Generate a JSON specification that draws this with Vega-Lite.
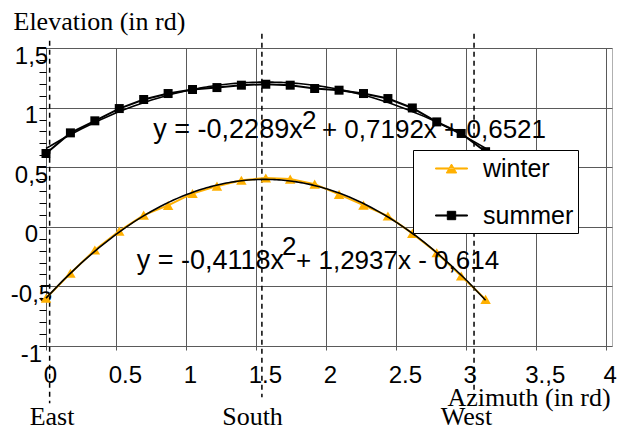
{
  "$schema": "https://vega.github.io/schema/vega-lite/v6.json",
  "width": 566,
  "height": 298,
  "autosize": {"type": "none"},
  "padding": {"left": 46, "top": 48, "right": 10, "bottom": 84},
  "background": "white",
  "config": {"view": {"stroke": "#b0b0b0", "strokeWidth": 1}, "font": "Liberation Sans"},
  "datasets": {
    "obs": [
      {"series": "winter", "x": 0, "y": -0.6},
      {"series": "winter", "x": 0.1745, "y": -0.39},
      {"series": "winter", "x": 0.3491, "y": -0.195},
      {"series": "winter", "x": 0.5236, "y": -0.036},
      {"series": "winter", "x": 0.6981, "y": 0.098},
      {"series": "winter", "x": 0.8727, "y": 0.18},
      {"series": "winter", "x": 1.0472, "y": 0.28},
      {"series": "winter", "x": 1.2217, "y": 0.341},
      {"series": "winter", "x": 1.3963, "y": 0.39},
      {"series": "winter", "x": 1.5708, "y": 0.41},
      {"series": "winter", "x": 1.7453, "y": 0.4},
      {"series": "winter", "x": 1.9199, "y": 0.358},
      {"series": "winter", "x": 2.0944, "y": 0.272},
      {"series": "winter", "x": 2.2689, "y": 0.182},
      {"series": "winter", "x": 2.4435, "y": 0.09},
      {"series": "winter", "x": 2.618, "y": -0.055},
      {"series": "winter", "x": 2.7925, "y": -0.218},
      {"series": "winter", "x": 2.9671, "y": -0.413},
      {"series": "winter", "x": 3.1416, "y": -0.609},
      {"series": "summer", "x": 0, "y": 0.615},
      {"series": "summer", "x": 0.1745, "y": 0.788},
      {"series": "summer", "x": 0.3491, "y": 0.889},
      {"series": "summer", "x": 0.5236, "y": 0.992},
      {"series": "summer", "x": 0.6981, "y": 1.068},
      {"series": "summer", "x": 0.8727, "y": 1.118},
      {"series": "summer", "x": 1.0472, "y": 1.152},
      {"series": "summer", "x": 1.2217, "y": 1.168},
      {"series": "summer", "x": 1.3963, "y": 1.188},
      {"series": "summer", "x": 1.5708, "y": 1.196},
      {"series": "summer", "x": 1.7453, "y": 1.188},
      {"series": "summer", "x": 1.9199, "y": 1.16},
      {"series": "summer", "x": 2.0944, "y": 1.146},
      {"series": "summer", "x": 2.2689, "y": 1.118},
      {"series": "summer", "x": 2.4435, "y": 1.076},
      {"series": "summer", "x": 2.618, "y": 0.997},
      {"series": "summer", "x": 2.7925, "y": 0.88},
      {"series": "summer", "x": 2.9671, "y": 0.783},
      {"series": "summer", "x": 3.1416, "y": 0.63}
    ],
    "dirs": [
      {"x": 0.026, "y": 1.56, "y2": -1.48},
      {"x": 1.543, "y": 1.62, "y2": -1.43},
      {"x": 3.059, "y": 1.62, "y2": -1.43}
    ],
    "dirlabels": [
      {"text": "East", "x": 0.043, "y": -1.665},
      {"text": "South", "x": 1.476, "y": -1.665},
      {"text": "West", "x": 3.005, "y": -1.665}
    ],
    "eqA": [
      {"text": "y = -0,2289x", "x": 0.767, "y": 0.743},
      {"text": "y = -0,4118x", "x": 0.648, "y": -0.354}
    ],
    "eqB": [
      {"text": "2", "x": 1.829, "y": 0.82},
      {"text": "+ 0,7192x + 0,6521", "x": 1.972, "y": 0.743},
      {"text": "2", "x": 1.687, "y": -0.237},
      {"text": "+ 1,2937x - 0,614", "x": 1.787, "y": -0.354}
    ]
  },
  "encoding": {
    "x": {
      "field": "x", "type": "quantitative",
      "scale": {"domain": [0, 4.045], "nice": false, "zero": false},
      "axis": {
        "values": [0, 0.5, 1, 1.5, 2, 2.5, 3, 3.5, 4],
        "labelExpr": "datum.value == 3.5 ? '3.,5' : '' + datum.value",
        "domain": false, "grid": true, "gridColor": "#5a5a5a", "gridWidth": 1,
        "tickColor": "#5a5a5a", "tickSize": 4,
        "labelFont": "Liberation Sans", "labelFontSize": 24, "labelColor": "black",
        "labelAlign": "center", "labelBaseline": "alphabetic", "labelPadding": 32,
        "labelOffset": {"condition": {"test": "datum.value % 1 != 0", "value": 9}, "value": 4},
        "labelFlush": false, "labelOverlap": false, "labelBound": false,
        "title": "Azimuth (in rd)", "titleFont": "Liberation Serif", "titleFontSize": 26,
        "titleFontWeight": "normal", "titleColor": "black", "titleAlign": "left",
        "titleBaseline": "alphabetic", "titleX": 401, "titleY": 59
      }
    },
    "y": {
      "field": "y", "type": "quantitative",
      "scale": {"domain": [-1, 1.5], "nice": false, "zero": false},
      "axis": {
        "values": [-1, -0.9, -0.8, -0.7, -0.6, -0.5, -0.4, -0.3, -0.2, -0.1, 0, 0.1, 0.2, 0.3, 0.4, 0.5, 0.6, 0.7, 0.8, 0.9, 1, 1.1, 1.2, 1.3, 1.4, 1.5],
        "labelExpr": "datum.value % 0.5 == 0 ? replace('' + datum.value, '.', ',') : ''",
        "domain": false, "grid": true, "gridColor": "#5a5a5a", "gridWidth": 1,
        "gridOpacity": {"condition": {"test": "datum.value % 0.5 != 0", "value": 0}, "value": 1},
        "tickColor": "black", "tickSize": 7,
        "labelFont": "Liberation Sans", "labelFontSize": 24, "labelColor": "black",
        "labelAlign": "center", "labelBaseline": "alphabetic", "labelPadding": 8, "labelOffset": 15,
        "labelOverlap": false, "labelBound": false, "labelFlush": false,
        "title": "Elevation (in rd)", "titleFont": "Liberation Serif", "titleFontSize": 26,
        "titleFontWeight": "normal", "titleColor": "black", "titleAngle": 0, "titleAlign": "left",
        "titleBaseline": "alphabetic", "titleX": -33, "titleY": -19
      }
    }
  },
  "layer": [
    {
      "data": {"name": "dirs"},
      "mark": {"type": "rule", "color": "black", "strokeWidth": 1.5, "strokeDash": [5, 4]},
      "encoding": {"y2": {"field": "y2"}}
    },
    {
      "data": {"name": "obs"},
      "mark": {"type": "line", "strokeWidth": 2},
      "encoding": {
        "color": {
          "field": "series", "type": "nominal",
          "scale": {"domain": ["winter", "summer"], "range": ["#FFB000", "#000000"]},
          "legend": {
            "orient": "none", "legendX": 367, "legendY": 102, "title": null,
            "fillColor": "white", "strokeColor": "black", "padding": 4,
            "symbolSize": 784, "rowPadding": 19, "symbolOffset": 20, "labelOffset": 17,
            "symbolStrokeWidth": 1,
            "labelFont": "Liberation Sans", "labelFontSize": 25, "labelColor": "black",
            "cornerRadius": 0,
            "encode": {
              "symbols": {
                "update": {
                  "shape": {"signal": "datum.value == 'winter' ? 'M-1.14,-0.04L1.14,-0.04L1.14,0.04L-1.14,0.04ZM-0.37,0.32L0.37,0.32L0,-0.32Z' : 'M-1.14,-0.04L1.14,-0.04L1.14,0.04L-1.14,0.04ZM-0.3,-0.3L0.3,-0.3L0.3,0.3L-0.3,0.3Z'"},
                  "fill": {"signal": "datum.value == 'winter' ? '#FFB000' : '#000000'"},
                  "stroke": {"signal": "datum.value == 'winter' ? '#FFB000' : '#000000'"},
                  "strokeWidth": {"value": 1},
                  "size": {"value": 784},
                  "opacity": {"value": 1},
                  "fillOpacity": {"value": 1},
                  "strokeOpacity": {"value": 1}
                }
              }
            }
          }
        },
        "order": {"field": "x"}
      }
    },
    {
      "data": {"name": "obs"},
      "transform": [{"filter": "datum.series == 'winter'"}],
      "mark": {"type": "point", "filled": true, "opacity": 1, "shape": "triangle-up", "size": 110, "color": "#FFB000"}
    },
    {
      "data": {"name": "obs"},
      "transform": [{"filter": "datum.series == 'summer'"}],
      "mark": {"type": "point", "filled": true, "opacity": 1, "shape": "square", "size": 81, "color": "#000000"}
    },
    {
      "data": {"name": "obs"},
      "transform": [
        {"regression": "y", "on": "x", "groupby": ["series"], "method": "poly", "order": 2, "extent": [0, 3.1416]}
      ],
      "mark": {"type": "line", "color": "black", "strokeWidth": 1.6},
      "encoding": {"detail": {"field": "series"}}
    },
    {
      "data": {"name": "eqA"},
      "mark": {"type": "text", "align": "left", "baseline": "alphabetic", "font": "Liberation Sans", "fontSize": 27, "color": "black"},
      "encoding": {"text": {"field": "text"}}
    },
    {
      "data": {"name": "eqB"},
      "mark": {"type": "text", "align": "left", "baseline": "alphabetic", "font": "Liberation Sans", "fontSize": 26, "color": "black"},
      "encoding": {"text": {"field": "text"}}
    },
    {
      "data": {"name": "dirlabels"},
      "mark": {"type": "text", "align": "center", "baseline": "alphabetic", "font": "Liberation Serif", "fontSize": 26, "color": "black"},
      "encoding": {"text": {"field": "text"}}
    }
  ]
}
